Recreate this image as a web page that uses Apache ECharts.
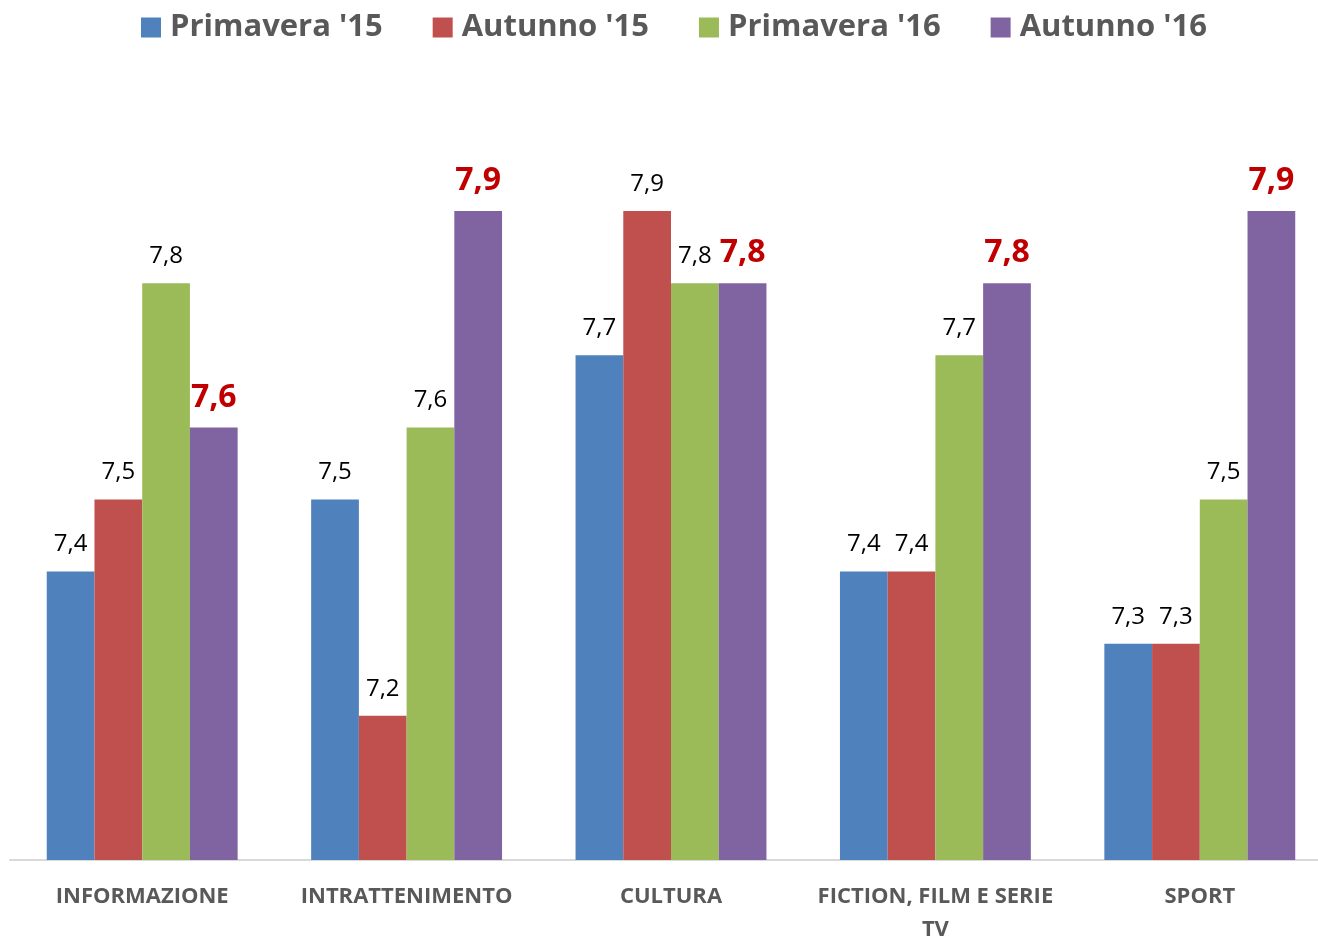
<!DOCTYPE html>
<html><head><meta charset="utf-8">
<script src="https://cdn.jsdelivr.net/npm/echarts@6/dist/echarts.min.js"></script>
<style>html,body{margin:0;padding:0;background:#fff;overflow:hidden}#c{width:1318px;height:940px}</style>
</head><body><div id="c"></div>
<script>
const categories = ['INFORMAZIONE', 'INTRATTENIMENTO', 'CULTURA', 'FICTION, FILM E SERIE TV', 'SPORT'];
const seriesNames = ["Primavera '15", "Autunno '15", "Primavera '16", "Autunno '16"];
const primavera15 = [7.4, 7.5, 7.7, 7.4, 7.3];
const autunno15 = [7.5, 7.2, 7.9, 7.4, 7.3];
const primavera16 = [7.8, 7.6, 7.8, 7.7, 7.5];
const autunno16 = [7.6, 7.9, 7.8, 7.8, 7.9];
const colors = ['#4F81BD', '#C0504D', '#9BBB59', '#8064A2'];

const FONT = 'Open Sans';
const fmt = p => String(p.value).replace('.', ',');
function mk(name, data, color, highlight) {
  return {
    name, type: 'bar', data, barGap: '0%', barCategoryGap: '27.8%',
    itemStyle: { color },
    label: highlight ? {
      show: true, position: 'top', distance: 14, formatter: fmt,
      color: '#C00000', fontWeight: 'bold', fontSize: 32, fontFamily: FONT
    } : {
      show: true, position: 'top', distance: 15, formatter: fmt,
      color: '#000', fontSize: 24, fontFamily: FONT
    }
  };
}
const chart = echarts.init(document.getElementById('c'), null, { renderer: 'canvas' });
chart.setOption({
  animation: false,
  legend: {
    top: 7, left: 136, itemWidth: 20, itemHeight: 20, itemGap: 50,
    icon: 'rect',
    textStyle: { fontSize: 31, fontWeight: 'bold', color: '#595959', fontFamily: FONT, padding: [0, 0, 0, 4] }
  },
  grid: { left: 10, width: 1322, top: 139, bottom: 80, containLabel: false, outerBoundsMode: 'none' },
  xAxis: {
    type: 'category', data: categories,
    axisLine: { lineStyle: { color: '#D9D9D9', width: 2 } },
    axisTick: { show: false },
    axisLabel: {
      interval: 0, margin: 20, fontSize: 22, fontWeight: 'bold', color: '#595959', fontFamily: FONT,
      lineHeight: 33,
      formatter: v => v === 'FICTION, FILM E SERIE TV' ? 'FICTION, FILM E SERIE\nTV' : v
    }
  },
  yAxis: { type: 'value', min: 7, max: 8, show: false, splitLine: { show: false } },
  series: [
    mk(seriesNames[0], primavera15, colors[0], false),
    mk(seriesNames[1], autunno15, colors[1], false),
    mk(seriesNames[2], primavera16, colors[2], false),
    mk(seriesNames[3], autunno16, colors[3], true)
  ]
});
</script></body></html>
